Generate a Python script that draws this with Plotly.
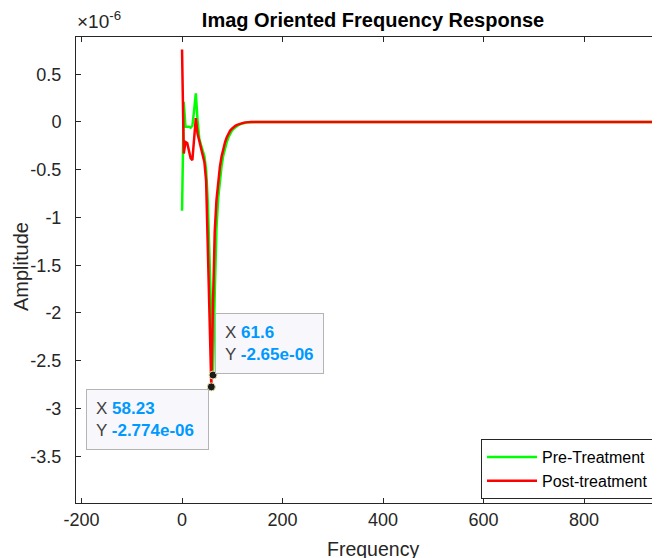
import plotly.graph_objects as go

# Frequency axis (Hz)
freq = [0.00, 3.42, 6.85, 10.27, 13.69, 17.12, 20.54, 23.96, 27.39, 30.81,
        34.23, 37.66, 41.08, 44.50, 47.93, 51.35, 54.77, 58.23, 61.60, 65.04,
        68.46, 71.88, 75.31, 78.73, 82.15, 85.58, 89.00, 92.42, 95.85, 99.27,
        102.7, 106.1, 109.5, 113.0, 116.4, 119.8, 123.2, 126.6, 130.0, 133.5,
        136.9, 150, 200, 300, 400, 500, 600, 700, 800, 900, 1000]

# Imaginary amplitude, in units of 1e-6
pre_treatment_u = [-0.93, 0.21, -0.05, -0.05, -0.05, -0.06, -0.04, 0.12, 0.30, 0.02,
                   -0.17, -0.24, -0.29, -0.36, -0.50, -0.85, -1.45, -2.15, -2.65, -1.80,
                   -1.12, -0.80, -0.60, -0.46, -0.35, -0.27, -0.21, -0.16, -0.12, -0.09,
                   -0.07, -0.055, -0.04, -0.03, -0.022, -0.016, -0.011, -0.007, -0.004, -0.002,
                   -0.001, 0.0, 0.0, 0.0, 0.0, 0.0, 0.0, 0.0, 0.0, 0.0, 0.0]

post_treatment_u = [0.76, -0.33, -0.21, -0.22, -0.30, -0.38, -0.40, -0.15, 0.04, -0.12,
                    -0.19, -0.25, -0.32, -0.42, -0.62, -1.25, -2.00, -2.774, -1.90, -1.15,
                    -0.82, -0.62, -0.47, -0.36, -0.28, -0.21, -0.16, -0.12, -0.09, -0.07,
                    -0.05, -0.04, -0.03, -0.022, -0.016, -0.011, -0.007, -0.004, -0.002, -0.001,
                    0.0, 0.0, 0.0, 0.0, 0.0, 0.0, 0.0, 0.0, 0.0, 0.0, 0.0]

series_names = ["Pre-Treatment", "Post-treatment"]
ytick_vals_u = [0.5, 0, -0.5, -1, -1.5, -2, -2.5, -3, -3.5]
ytick_text = ["0.5", "0", "-0.5", "-1", "-1.5", "-2", "-2.5", "-3", "-3.5"]
xtick_vals = [-200, 0, 200, 400, 600, 800]
xtick_text = ["-200", "0", "200", "400", "600", "800"]
tip_index_post = 17
tip_index_pre = 18

pre = [v * 1e-6 for v in pre_treatment_u]
post = [v * 1e-6 for v in post_treatment_u]

AX = "#262626"
FONT = "Liberation Sans, Arial, sans-serif"

# page body has an 8px margin; figure is sized to fill the remaining window
W, H = 652, 550

fig = go.Figure()
fig.add_trace(go.Scatter(x=freq, y=pre, mode="lines", name=series_names[0],
                         line=dict(color="#00ff00", width=2.5)))
fig.add_trace(go.Scatter(x=freq, y=post, mode="lines", name=series_names[1],
                         line=dict(color="#ff0000", width=2.5)))

# datatip markers
for idx, ser in ((tip_index_post, post), (tip_index_pre, pre)):
    fig.add_trace(go.Scatter(x=[freq[idx]], y=[ser[idx]], mode="markers", showlegend=False,
                             marker=dict(color="#1a1a1a", size=8,
                                         line=dict(color="#e8e0a0", width=1))))

def tip_text(xv, yv):
    return (f"X <b><span style='color:#0099ff'>{xv:g}</span></b><br>"
            f"Y <b><span style='color:#0099ff'>{yv:.4g}</span></b>")

annotations = [
    dict(x=freq[tip_index_pre], y=pre[tip_index_pre], xref="x", yref="y",
         text=tip_text(freq[tip_index_pre], pre[tip_index_pre]), showarrow=False,
         xanchor="left", yanchor="bottom", xshift=2, yshift=1, align="left",
         font=dict(family=FONT, size=17, color="#404040"),
         bgcolor="#f8f8fc", bordercolor="#b4b4b4", borderwidth=1, borderpad=9),
    dict(x=freq[tip_index_post], y=post[tip_index_post], xref="x", yref="y",
         text=tip_text(freq[tip_index_post], post[tip_index_post]) + "&nbsp;",
         showarrow=False,
         xanchor="right", yanchor="top", xshift=-2, yshift=-2, align="left",
         font=dict(family=FONT, size=17, color="#404040"),
         bgcolor="#f8f8fc", bordercolor="#b4b4b4", borderwidth=1, borderpad=9),
    dict(x=0, y=1, xref="paper", yref="paper", xanchor="left", yanchor="bottom",
         xshift=-1, yshift=3, showarrow=False, text="\u00d710<sup>-6</sup>",
         font=dict(family=FONT, size=19, color=AX)),
    dict(x=(373 - 76) / 584, y=0, xref="paper", yref="paper", xanchor="center",
         yanchor="middle", yshift=-46, showarrow=False, text="Frequency",
         font=dict(family=FONT, size=19.5, color=AX)),
    dict(x=0, y=0.5064, xref="paper", yref="paper", xanchor="center", yanchor="middle",
         xshift=-55, showarrow=False, text="Amplitude", textangle=-90,
         font=dict(family=FONT, size=20, color=AX)),
]

fig.update_layout(
    width=W, height=H,
    margin=dict(l=68, r=0, t=29, b=55, autoexpand=False),
    paper_bgcolor="white", plot_bgcolor="white",
    font=dict(family=FONT, size=18, color=AX),
    title=dict(text="<b>Imag Oriented Frequency Response</b>", x=(373 - 76) / 584,
               xref="paper", xanchor="center",
               y=1 - 12 / H, yanchor="middle", yref="container",
               font=dict(family=FONT, size=20, color="black")),
    xaxis=dict(range=[-211, 951], tickvals=xtick_vals, ticktext=xtick_text,
               showgrid=False, zeroline=False, automargin=False,
               showline=True, linecolor=AX, linewidth=1, mirror="ticks",
               ticks="inside", ticklen=5, tickcolor=AX, ticklabelstandoff=0,
               tickfont=dict(family=FONT, size=18, color=AX)),
    yaxis=dict(range=[-3.99e-6, 0.89e-6], tickvals=[v * 1e-6 for v in ytick_vals_u],
               ticktext=ytick_text, showgrid=False, zeroline=False, automargin=False,
               showline=True, linecolor=AX, linewidth=1, mirror=False,
               ticks="inside", ticklen=5, tickcolor=AX, ticklabelstandoff=10,
               tickfont=dict(family=FONT, size=18, color=AX)),
    legend=dict(x=(654 - 76) / 584, y=(503 - 439) / 466, xanchor="right", yanchor="top",
                bgcolor="white", bordercolor=AX, borderwidth=1,
                font=dict(family=FONT, size=16, color="black"), itemwidth=50,
                tracegroupgap=0),
    annotations=annotations,
    showlegend=True,
)

fig.write_html("out.html")
